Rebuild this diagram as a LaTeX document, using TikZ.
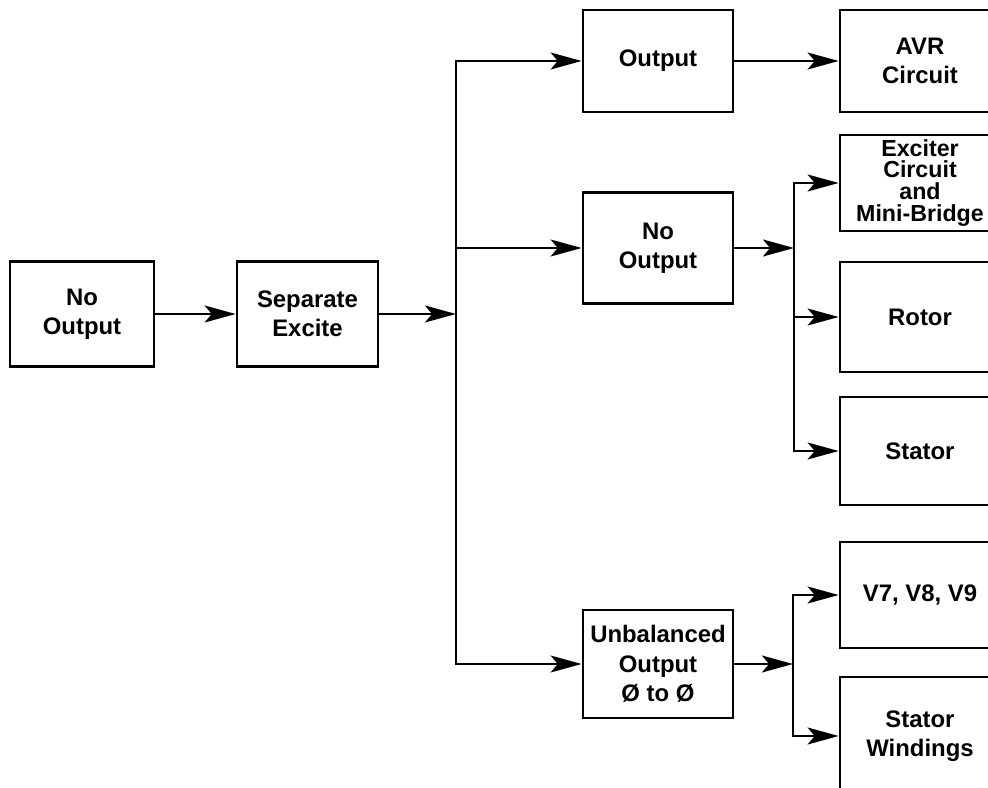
\documentclass[tikz,border=0pt]{standalone}
\usepackage{fontspec}
\setmainfont{Liberation Sans}
\usetikzlibrary{arrows.meta}

\begin{document}
\begin{tikzpicture}[
    x=0.025cm, y=-0.025cm,
    box/.style={draw, line width=1.9pt, align=center, inner sep=0pt, minimum width=3.75cm, font=\bfseries\fontsize{17}{20.8}\selectfont},
    endbox/.style={box, minimum width=4cm},
    arrow/.style={-{Stealth[length=22pt, width=12pt, inset=5pt]}, line width=1.9pt}
]
\useasboundingbox (0,0) rectangle (988,788);
\clip (0,0) rectangle (988,788);
\node[box, minimum width=3.6cm, minimum height=2.625cm] (fault) at (82,314) {No\\Output};
\node[box, minimum width=3.525cm, minimum height=2.625cm] (sep) at (307.5,314) {Separate\\Excite};
\node[box, minimum height=2.55cm] (outp) at (658,61) {Output};
\node[box, minimum height=2.775cm] (noout) at (658,248) {No\\Output};
\node[box, minimum height=2.7cm] (unbal) at (658,664) {Unbalanced\\Output\\Ø to Ø};
\node[endbox, minimum height=2.55cm] (avr) at (920,61) {AVR\\Circuit};
\node[endbox, minimum height=2.4cm, font=\bfseries\fontsize{16.5}{15.6}\selectfont] (exc) at (920,183) {Exciter\\Circuit\\and\\Mini-Bridge};
\node[endbox, minimum height=2.75cm] (rotor) at (920,317) {Rotor};
\node[endbox, minimum height=2.7cm] (stator) at (920,451) {Stator};
\node[endbox, minimum height=2.65cm] (volt) at (920,595) {V7, V8, V9};
\node[endbox, minimum height=2.95cm] (windings) at (920,736) {Stator\\Windings};
\coordinate (split) at (456,314);
\coordinate (fork) at (794,248);
\coordinate (fork2) at (793,664);
\draw[arrow] (fault) -- (sep);
\draw[arrow] (sep) -- (split);
\draw[arrow] (split) |- (outp);
\draw[arrow] (split |- noout) -- (noout);
\draw[arrow] (split) |- (unbal);
\draw[arrow] (outp) -- (avr);
\draw[arrow] (noout) -- (fork);
\draw[arrow] (fork) |- (exc);
\draw[arrow] (fork |- rotor) -- (rotor);
\draw[arrow] (fork) |- (stator);
\draw[arrow] (unbal) -- (fork2);
\draw[arrow] (fork2) |- (volt);
\draw[arrow] (fork2) |- (windings);
\end{tikzpicture}
\end{document}
